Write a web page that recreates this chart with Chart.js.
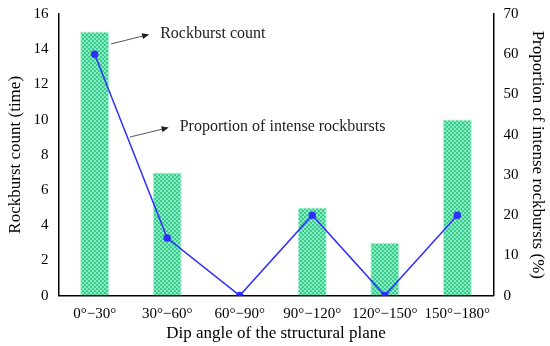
<!DOCTYPE html>
<html lang="en">
<head>
    <meta charset="UTF-8">
    <title>Rockburst count and proportion</title>
    <style>
        html, body { margin: 0; padding: 0; background: #fff; }
        .chart-box { width: 550px; height: 346px; }
    </style>
    <script src="https://cdn.jsdelivr.net/npm/chart.js"></script>
</head>
<body>
    <div class="chart-box">
        <canvas id="rockChart" width="550" height="346"></canvas>
    </div>

    <script>
        // data
        var categories = ['0°−30°', '30°−60°', '60°−90°', '90°−120°', '120°−150°', '150°−180°'];
        var burstCount = [15, 7, 0, 5, 3, 10];
        var intenseShare = [60, 14.3, 0, 20, 0, 20];
        var leftTicks = [0, 2, 4, 6, 8, 10, 12, 14, 16];
        var rightTicks = [0, 10, 20, 30, 40, 50, 60, 70];

        var serif = '"Liberation Serif", "Times New Roman", serif';

        // checkered green fill like the original bars
        function makePattern() {
            var p = document.createElement('canvas');
            p.width = 4; p.height = 4;
            var c = p.getContext('2d');
            c.fillStyle = '#8ee8bf';
            c.fillRect(0, 0, 4, 4);
            c.fillStyle = '#33cf8e';
            c.fillRect(0, 0, 2, 2);
            c.fillRect(2, 2, 2, 2);
            return c.createPattern(p, 'repeat');
        }

        // arrows + labels that point at the bar and the line
        var notesPlugin = {
            id: 'notesPlugin',
            afterDatasetsDraw: function(chart) {
                var ctx = chart.ctx;
                var x = chart.scales.x, yl = chart.scales.y, yr = chart.scales.y2;
                var barMeta = chart.getDatasetMeta(1).data[0];
                var notes = [
                    { text: 'Rockburst count', x0: barMeta.x + barMeta.width / 2 + 2, y0: yl.getPixelForValue(14.3), dx: 36, dy: -9 },
                    { text: 'Proportion of intense rockbursts', x0: x.getPixelForValue(0) + 35, y0: yr.getPixelForValue(39.4), dx: 37, dy: -9 }
                ];
                ctx.save();
                ctx.strokeStyle = '#555';
                ctx.fillStyle = '#222';
                ctx.lineWidth = 1;
                notes.forEach(function(n) {
                    var x1 = n.x0 + n.dx, y1 = n.y0 + n.dy;
                    ctx.beginPath();
                    ctx.moveTo(n.x0, n.y0);
                    ctx.lineTo(x1, y1);
                    ctx.stroke();
                    var a = Math.atan2(n.dy, n.dx);
                    ctx.beginPath();
                    ctx.moveTo(x1 + 2, y1 + 2 * Math.tan(a));
                    ctx.lineTo(x1 - 5 * Math.cos(a) + 3 * Math.sin(a), y1 - 5 * Math.sin(a) - 3 * Math.cos(a));
                    ctx.lineTo(x1 - 5 * Math.cos(a) - 3 * Math.sin(a), y1 - 5 * Math.sin(a) + 3 * Math.cos(a));
                    ctx.closePath();
                    ctx.fill();
                    ctx.font = '16px ' + serif;
                    ctx.textBaseline = 'middle';
                    ctx.fillText(n.text, x1 + 13, y1 - 1);
                });
                ctx.restore();
            }
        };

        var data = {
            labels: categories,
            datasets: [{
                type: 'line',
                label: 'Proportion of intense rockbursts',
                data: intenseShare,
                yAxisID: 'y2',
                borderColor: '#2f2fff',
                backgroundColor: '#2f2fff',
                borderWidth: 1.5,
                pointRadius: 3,
                pointHoverRadius: 3,
                tension: 0,
                order: 0
            }, {
                type: 'bar',
                label: 'Rockburst count',
                data: burstCount,
                yAxisID: 'y',
                backgroundColor: makePattern(),
                borderColor: '#b2f2d2',
                borderWidth: 1,
                categoryPercentage: 0.4,
                barPercentage: 1,
                order: 1
            }]
        };

        var tickFont = { family: serif, size: 15 };
        var titleFont = { family: serif, size: 17 };

        var options = {
            responsive: false,
            animation: false,
            layout: { padding: { top: 4, right: 0, left: 1, bottom: 2 } },
            plugins: {
                legend: { display: false },
                tooltip: { enabled: false }
            },
            scales: {
                x: {
                    grid: { display: false, drawTicks: false },
                    border: { color: '#000', width: 1.5 },
                    ticks: { color: '#000', font: tickFont, maxRotation: 0, autoSkip: false, padding: 9 },
                    title: { display: true, text: 'Dip angle of the structural plane', color: '#000', font: titleFont, padding: { top: -8, bottom: 0 } }
                },
                y: {
                    position: 'left',
                    min: 0, max: 16,
                    afterBuildTicks: function(ax) { ax.ticks = leftTicks.map(function(v) { return { value: v }; }); },
                    grid: { display: false, drawOnChartArea: false, drawTicks: true, tickLength: 5, tickColor: '#000' },
                    border: { color: '#000', width: 1.5 },
                    ticks: { color: '#000', font: tickFont, padding: 5 },
                    title: { display: true, text: 'Rockburst count (time)', color: '#000', font: titleFont, padding: { bottom: 3 } }
                },
                y2: {
                    position: 'right',
                    min: 0, max: 70,
                    afterBuildTicks: function(ax) { ax.ticks = rightTicks.map(function(v) { return { value: v }; }); },
                    grid: { display: false, drawOnChartArea: false, drawTicks: true, tickLength: 5, tickColor: '#000' },
                    border: { color: '#000', width: 1.5 },
                    ticks: { color: '#000', font: tickFont, padding: 5 },
                    title: { display: true, text: 'Proportion of intense rockbursts (%)', color: '#000', font: titleFont, padding: { top: 2 } }
                }
            }
        };

        var ctx = document.getElementById('rockChart').getContext('2d');
        new Chart(ctx, {
            type: 'bar',
            data: data,
            options: options,
            plugins: [notesPlugin]
        });
    </script>
</body>
</html>
